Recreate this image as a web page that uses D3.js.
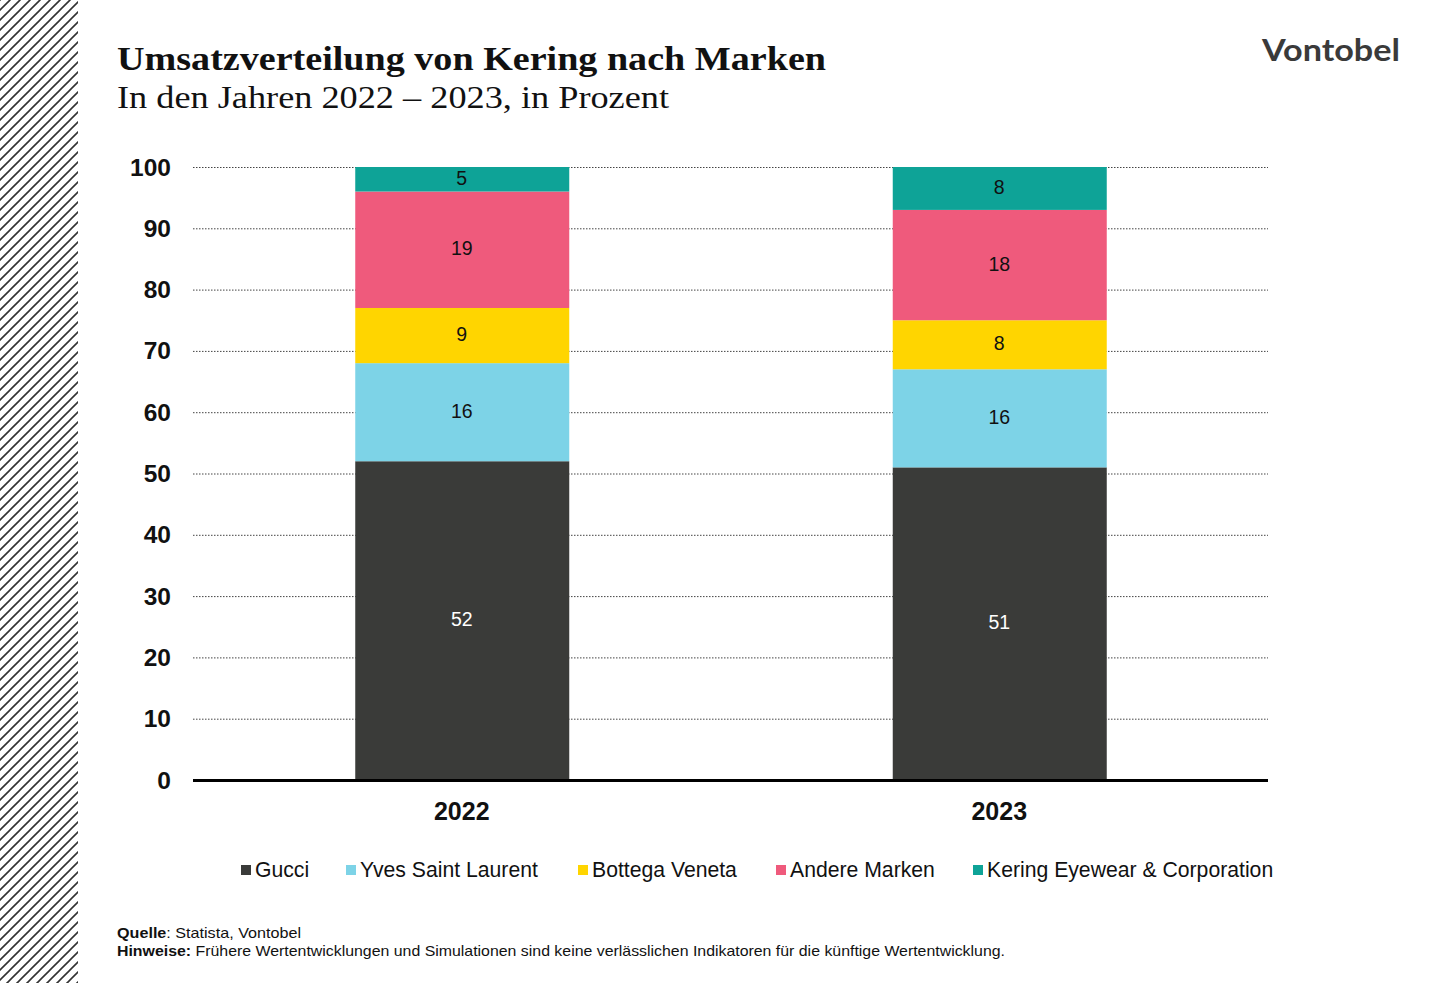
<!DOCTYPE html>
<html><head><meta charset="utf-8">
<script src="https://cdn.jsdelivr.net/npm/d3@7"></script>
<style>html,body{margin:0;padding:0;background:#fff;}svg{display:block;}</style>
</head><body>
<script>
const categories = ["2022", "2023"];
const seriesNames = ["Gucci", "Yves Saint Laurent", "Bottega Veneta", "Andere Marken", "Kering Eyewear & Corporation"];
const gucci = [52, 51];
const ysl = [16, 16];
const bottega = [9, 8];
const andere = [19, 18];
const kering = [5, 8];
const yTicks = [0, 10, 20, 30, 40, 50, 60, 70, 80, 90, 100];
const colors = ["#3a3b39", "#7dd3e7", "#ffd500", "#ef5a7c", "#0ea397"];
const labelColors = ["#fff", "#111", "#111", "#111", "#111"];

const W = 1440, H = 983;
const svg = d3.select("body").append("svg").attr("width", W).attr("height", H);

// hatch on the left
const defs = svg.append("defs");
const pat = defs.append("pattern").attr("id", "hatch").attr("patternUnits", "userSpaceOnUse")
  .attr("width", 10).attr("height", 10);
pat.append("path").attr("d", "M-2,12 L12,-2 M-2,2 L2,-2 M8,12 L12,8").attr("stroke", "#333").attr("stroke-width", 1.6);
svg.append("rect").attr("x", 0).attr("y", 0).attr("width", 78).attr("height", H).attr("fill", "url(#hatch)");

// titles
svg.append("text").attr("x", 117).attr("y", 70).attr("font-family", "'Liberation Serif', 'DejaVu Serif', serif")
  .attr("font-weight", "bold").attr("font-size", 33).attr("fill", "#111")
  .attr("textLength", 709).attr("lengthAdjust", "spacingAndGlyphs")
  .text("Umsatzverteilung von Kering nach Marken");
svg.append("text").attr("x", 117).attr("y", 108).attr("font-family", "'Liberation Serif', 'DejaVu Serif', serif")
  .attr("font-size", 31).attr("fill", "#111")
  .attr("textLength", 552).attr("lengthAdjust", "spacingAndGlyphs")
  .text("In den Jahren 2022 – 2023, in Prozent");
svg.append("text").attr("x", 1262).attr("y", 61).attr("font-family", "Lato, 'Open Sans', sans-serif")
  .attr("font-weight", "bold").attr("font-size", 31).attr("fill", "#3a3a3a")
  .attr("textLength", 138).attr("lengthAdjust", "spacingAndGlyphs").text("Vontobel");

const x0 = 193, x1 = 1268, yTop = 167, yBot = 780;
const x = d3.scaleBand().domain(categories).range([x0, x1]).paddingInner(0.6).paddingOuter(0.3);
const y = d3.scaleLinear().domain([0, 100]).range([yBot, yTop]).clamp(true);

// grid
const g = svg.append("g");
g.selectAll("line.grid").data(yTicks.filter(t => t > 0)).join("line")
  .attr("x1", x0).attr("x2", x1).attr("y1", d => y(d) + 0.5).attr("y2", d => y(d) + 0.5)
  .attr("stroke", "#444").attr("stroke-width", 1).attr("stroke-dasharray", "1.5,1.5");

// y axis labels
const yAxis = d3.axisLeft(y).tickValues(yTicks).tickSize(0).tickPadding(0);
const ya = svg.append("g").attr("transform", "translate(171,0)").call(yAxis);
ya.select(".domain").remove();
ya.selectAll("text").attr("font-family", "'Liberation Sans', Arial, sans-serif").attr("font-weight", "bold")
  .attr("font-size", 24.5).attr("fill", "#111").attr("dy", "0.33em");

// stacks
const rows = categories.map((c, i) => ({cat: c, s0: gucci[i], s1: ysl[i], s2: bottega[i], s3: andere[i], s4: kering[i]}));
const stack = d3.stack().keys(["s0", "s1", "s2", "s3", "s4"])(rows);
stack.forEach((layer, li) => {
  const lg = svg.append("g");
  lg.selectAll("rect").data(layer).join("rect")
    .attr("x", d => x(d.data.cat) + 1).attr("width", x.bandwidth() - 1)
    .attr("y", d => y(d[1])).attr("height", d => y(d[0]) - y(d[1]))
    .attr("fill", colors[li]);
  lg.selectAll("text").data(layer).join("text")
    .attr("x", d => x(d.data.cat) + x.bandwidth() / 2)
    .attr("y", d => (y(d[0]) + y(d[1])) / 2).attr("dy", "0.28em")
    .attr("text-anchor", "middle").attr("font-family", "'Liberation Sans', Arial, sans-serif")
    .attr("font-size", 19.5).attr("fill", labelColors[li])
    .text(d => d[1] - d[0]);
});

// baseline
svg.append("line").attr("x1", x0).attr("x2", x1).attr("y1", yBot + 0.5).attr("y2", yBot + 0.5)
  .attr("stroke", "#000").attr("stroke-width", 3);

// x axis
const xAxis = d3.axisBottom(x).tickSize(0).tickPadding(0);
const xa = svg.append("g").attr("transform", `translate(0,${yBot + 40})`).call(xAxis);
xa.select(".domain").remove();
xa.selectAll("text").attr("font-family", "'Liberation Sans', Arial, sans-serif").attr("font-weight", "bold")
  .attr("font-size", 25).attr("fill", "#111").attr("dy", 0);

// legend
const legX = [241, 346, 578, 776, 973];
const leg = svg.append("g");
seriesNames.forEach((n, i) => {
  leg.append("rect").attr("x", legX[i]).attr("y", 865).attr("width", 10).attr("height", 10).attr("fill", colors[i]);
  leg.append("text").attr("x", legX[i] + 14).attr("y", 877).attr("font-family", "'Liberation Sans', Arial, sans-serif")
    .attr("font-size", 21.2).attr("fill", "#111").text(n);
});

// footer
const f1 = svg.append("text").attr("x", 117).attr("y", 938).attr("font-family", "'Liberation Sans', Arial, sans-serif")
  .attr("font-size", 15).attr("fill", "#111").attr("textLength", 184).attr("lengthAdjust", "spacingAndGlyphs");
f1.append("tspan").attr("font-weight", "bold").text("Quelle");
f1.append("tspan").text(": Statista, Vontobel");
const f2 = svg.append("text").attr("x", 117).attr("y", 956).attr("font-family", "'Liberation Sans', Arial, sans-serif")
  .attr("font-size", 15).attr("fill", "#111").attr("textLength", 888).attr("lengthAdjust", "spacingAndGlyphs");
f2.append("tspan").attr("font-weight", "bold").text("Hinweise:");
f2.append("tspan").text(" Frühere Wertentwicklungen und Simulationen sind keine verlässlichen Indikatoren für die künftige Wertentwicklung.");
</script>
</body></html>
